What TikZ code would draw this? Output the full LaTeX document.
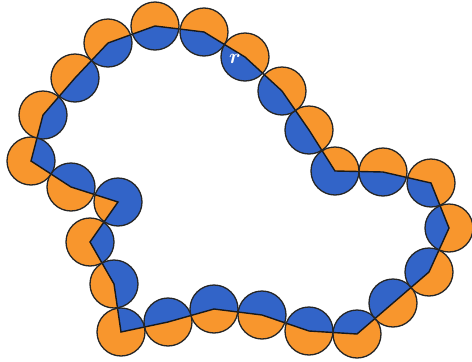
\documentclass[tikz,border=0pt]{standalone}
\definecolor{orng}{RGB}{248,150,45}
\definecolor{blu}{RGB}{50,100,200}
\begin{document}
\begin{tikzpicture}[x=1pt,y=-1pt,
  rim/.style={draw=black!85,line width=1.3pt},
  chain/.style={draw=black!90,line width=1.4pt,line join=miter}]
\useasboundingbox (0,0) rectangle (472,362);
\def\R{24}
\foreach \n/\x/\y in {1/155/26,2/204/32,3/245/57,4/282/91,5/309/130,6/335/171,7/383/172,8/431/183,9/449/228,10/429/272,11/393/303,12/357/334,13/309/331,14/262/315,15/214/309,16/168/322,17/121/332,18/114/284,19/90/242,20/118/202,21/71/187,22/31/161,23/43/115,24/75/78,25/108/43}
  {\coordinate (c\n) at (\x,\y);}
% orange discs
\foreach \n in {1,...,25} {\fill[orng] (c\n) circle[radius=\R];}
% blue interior parts
\begin{scope}
  \clip (c1) circle[radius=\R] (c2) circle[radius=\R] (c3) circle[radius=\R] (c4) circle[radius=\R] (c5) circle[radius=\R]
        (c6) circle[radius=\R] (c7) circle[radius=\R] (c8) circle[radius=\R] (c9) circle[radius=\R] (c10) circle[radius=\R]
        (c11) circle[radius=\R] (c12) circle[radius=\R] (c13) circle[radius=\R] (c14) circle[radius=\R] (c15) circle[radius=\R]
        (c16) circle[radius=\R] (c17) circle[radius=\R] (c18) circle[radius=\R] (c19) circle[radius=\R] (c20) circle[radius=\R]
        (c21) circle[radius=\R] (c22) circle[radius=\R] (c23) circle[radius=\R] (c24) circle[radius=\R] (c25) circle[radius=\R];
  \fill[blu] (c1) -- (c2) -- (c3) -- (c4) -- (c5) -- (c6) -- (c7) -- (c8) -- (c9) -- (c10) -- (c11) -- (c12) -- (c13)
    -- (c14) -- (c15) -- (c16) -- (c17) -- (c18) -- (c19) -- (c20) -- (c21) -- (c22) -- (c23) -- (c24) -- (c25) -- cycle;
\end{scope}
% chain of centres
\draw[chain] (c1) -- (c2) -- (c3) -- (c4) -- (c5) -- (c6) -- (c7) -- (c8) -- (c9) -- (c10) -- (c11) -- (c12) -- (c13)
    -- (c14) -- (c15) -- (c16) -- (c17) -- (c18) -- (c19) -- (c20) -- (c21) -- (c22) -- (c23) -- (c24) -- (c25) -- cycle;
% outlines
\foreach \n in {1,...,25} {\draw[rim] (c\n) circle[radius=\R];}
\node[text=white,font=\fontsize{22}{24}\selectfont\boldmath,inner sep=0pt] (rlab) at (235,59) {$r$};
\end{tikzpicture}
\end{document}
